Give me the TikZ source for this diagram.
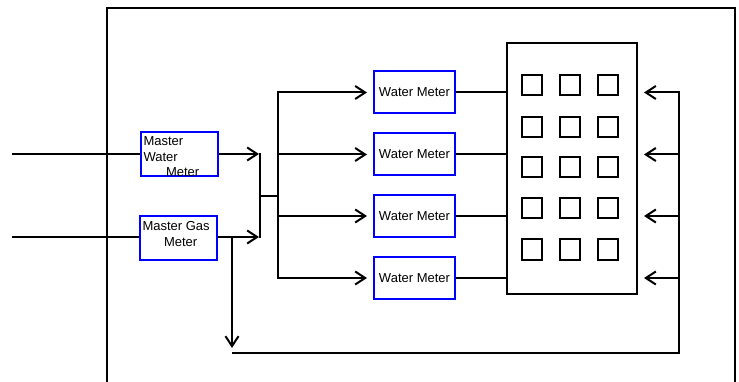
\documentclass[tikz,border=0pt]{standalone}
\usepackage{fontspec}
\setmainfont{Liberation Sans}
\usetikzlibrary{arrows.meta}
\begin{document}
\begin{tikzpicture}[x=1pt,y=-1pt,
  line width=2pt,
  font=\fontsize{13}{15.6}\selectfont,
  meter/.style={draw=blue, line width=2pt, inner sep=0pt, minimum width=81pt, minimum height=42pt},
  master/.style={draw=blue, line width=2pt, inner sep=0pt, minimum width=77pt, minimum height=44pt},
  building/.style={draw, line width=2pt, minimum width=130pt, minimum height=251pt, inner sep=0pt},
  window/.style={draw, line width=2pt, minimum width=20pt, minimum height=20pt, inner sep=0pt},
  txt/.style={anchor=base west, inner sep=0pt},
  wire/.style={draw, line width=2pt},
  arr/.style={wire, -{Straight Barb[length=10pt,width=13pt,line width=2pt]}}
]
\useasboundingbox (0,0) rectangle (739,382);
% outer frame
\coordinate (fbl) at (107,383);
\coordinate (ftl) at (107,8);
\coordinate (ftr) at (735,8);
\coordinate (fbr) at (735,383);
\draw[line width=2pt] (fbl) -- (ftl) -- (ftr) -- (fbr);

% master meters
\node[master] (mw) at (179,154) {};
\node[master] (mg) at (178,238) {};
\node[txt] (mwt1) at (142.5,146) {Master};
\node[txt] (mwt2) at (142.5,161.5) {Water};
\node[txt] (mwt3) at (165,177) {Meter};
\node[txt] (mgt1) at (141.5,231) {Master Gas};
\node[txt] (mgt2) at (163,247) {Meter};

% water meters
\node[meter] (w1) at (414.5,92.5) {Water Meter};
\node[meter] (w2) at (414.5,154.5) {Water Meter};
\node[meter] (w3) at (414.5,216) {Water Meter};
\node[meter] (w4) at (414.5,278) {Water Meter};

% building
\node[building] (bld) at (572,168.5) {};
\foreach \c [count=\i] in {532,570,608}{
  \foreach \r [count=\j] in {85.5,127.5,167.5,208,249.5}{
    \node[window] (win\i\j) at (\c,\r) {};
  }
}

% inputs
\coordinate (in1) at (12,154);
\coordinate (in2) at (12,237);
\draw[wire] (in1) -- (mw.west |- in1);
\draw[wire] (in2) -- (mg.west |- in2);

% master outputs to small bus
\coordinate (b1) at (259,154);
\coordinate (b2) at (259,237);
\draw[arr] (mw.east |- b1) -- (b1);
\draw[arr] (mg.east |- b2) -- (b2);
\draw[wire] (260,153) -- (260,238);
\coordinate (bm) at (260,196);
\coordinate (bus1) at (278,91);
\coordinate (bus2) at (278,279);
\draw[wire] (bm) -- (bm -| bus1);
\draw[wire] (bus1) -- (bus2);

% bus to water meters
\foreach \w in {w1,w2,w3,w4}{
  \draw[arr, shorten >=6pt] (bus1 |- \w.west) -- (\w.west);
  \draw[wire] (\w.east) -- (bld.west |- \w.east);
}

% feedback loop
\coordinate (g) at (232,237);
\coordinate (gd) at (232,348);
\draw[arr] (g) -- (gd);
\coordinate (fb0) at (232,353);
\coordinate (fb1) at (679,353);
\coordinate (fb2) at (679,91);
\draw[wire] (fb0) -- (fb1) -- (fb2);
\foreach \w in {w1,w2,w3,w4}{
  \draw[arr, shorten >=6pt] (fb1 |- \w.east) -- (bld.east |- \w.east);
}
\end{tikzpicture}
\end{document}
